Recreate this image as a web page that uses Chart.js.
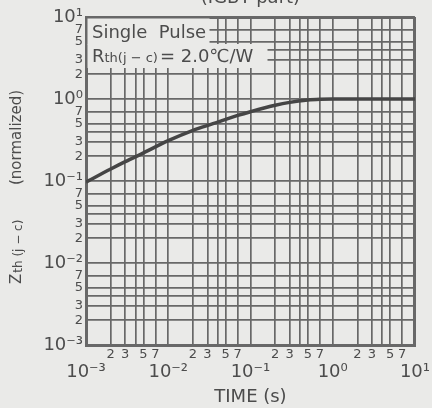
<!DOCTYPE html>
<html>
<head>
<meta charset="utf-8">
<script src="https://cdn.jsdelivr.net/npm/chart.js@4.4.0/dist/chart.umd.min.js"></script>
<style>
  html, body { margin: 0; padding: 0; background: #eaeae8; }
  #wrap { width: 432px; height: 408px; }
</style>
</head>
<body>
<div id="wrap"><canvas id="zthChart"></canvas></div>
<script>
// Transient thermal impedance curve (IGBT part)
const timeS = [0.001, 0.002, 0.003, 0.005, 0.01, 0.02, 0.035, 0.07, 0.1, 0.2, 0.3, 0.5, 0.7, 1, 2, 5, 10];
const zthNorm = [0.097, 0.14, 0.172, 0.22, 0.31, 0.415, 0.50, 0.63, 0.70, 0.84, 0.91, 0.97, 0.99, 1.0, 1.0, 1.0, 1.0];

// log grid: decades and the steps that get a line / a label
const xDecades = [-3, -2, -1, 0, 1];
const yDecades = [-3, -2, -1, 0, 1];
const gridSteps = [1, 2, 3, 4, 5, 7];
const labelSteps = [2, 3, 5, 7];

const INK = '#4c4c4c';
const GRID = '#686868';
const BG = '#eaeae8';
const FONT = '"DejaVu Sans", "Liberation Sans", sans-serif';

const sup = { '-': '\u207B', '0': '\u2070', '1': '\u00B9', '2': '\u00B2', '3': '\u00B3' };
function decadeLabel(d) {
  return '10' + String(d).split('').map(c => sup[c]).join('');
}

// list of grid ticks with their text
function makeTicks(decades) {
  const out = [];
  decades.forEach((d, i) => {
    const last = i === decades.length - 1;
    gridSteps.forEach(s => {
      if (last && s !== 1) return;
      out.push({
        value: s * Math.pow(10, d),
        major: s === 1,
        text: s === 1 ? decadeLabel(d) : (labelSteps.includes(s) ? String(s) : '')
      });
    });
  });
  return out;
}
const xTicks = makeTicks(xDecades);
const yTicks = makeTicks(yDecades);

function edgeWidth(scale, v) {
  return (Math.abs(v - scale.min) < 1e-12 || Math.abs(v - scale.max) < 1e-9) ? 3 : 1.7;
}

const textPlugin = {
  id: 'textPlugin',
  beforeDatasetsDraw(chart) {
    const { ctx, chartArea: a } = chart;
    ctx.save();
    // white-out behind the note, as in the datasheet
    ctx.fillStyle = BG;
    ctx.fillRect(a.left + 1.5, a.top + 1.5, 122, 26);
    ctx.fillRect(a.left + 1.5, a.top + 27, 180, 24);
    ctx.fillStyle = INK;
    ctx.textBaseline = 'alphabetic';
    ctx.textAlign = 'left';
    ctx.font = '18px ' + FONT;
    ctx.fillText('Single  Pulse', a.left + 6, a.top + 21);
    let x = a.left + 6;
    const y = a.top + 45;
    ctx.font = '18px ' + FONT;
    ctx.fillText('R', x, y);
    x += ctx.measureText('R').width;
    ctx.font = '13px ' + FONT;
    ctx.fillText('th(j \u2212 c)', x, y);
    x += ctx.measureText('th(j \u2212 c)').width;
    ctx.font = '18px ' + FONT;
    ctx.fillText('= 2.0\u2103/W', x + 2, y);
    ctx.restore();
  },
  afterDraw(chart) {
    const { ctx, chartArea: a } = chart;
    ctx.save();
    ctx.fillStyle = INK;
    // caption cut by the top edge
    ctx.font = '18px ' + FONT;
    ctx.textAlign = 'center';
    ctx.textBaseline = 'alphabetic';
    ctx.fillText('(IGBT part)', (a.left + a.right) / 2, 3);
    // y axis title with subscript
    ctx.translate(21, 284);
    ctx.rotate(-Math.PI / 2);
    ctx.textAlign = 'left';
    ctx.font = '15px ' + FONT;
    ctx.fillText('Z', 0, 0);
    const x = ctx.measureText('Z').width + 1;
    ctx.font = '12px ' + FONT;
    ctx.fillText('th (j \u2212 c)', x, 1);
    ctx.font = '15px ' + FONT;
    ctx.fillText('(normalized)', 99, 0);
    ctx.restore();
  }
};

const ctx = document.getElementById('zthChart').getContext('2d');

const config = {
  type: 'line',
  data: {
    datasets: [{
      data: timeS.map((t, i) => ({ x: t, y: zthNorm[i] })),
      borderColor: '#454545',
      borderWidth: 3.5,
      pointRadius: 0,
      cubicInterpolationMode: 'monotone',
      fill: false
    }]
  },
  options: {
    responsive: true,
    maintainAspectRatio: false,
    animation: false,
    layout: { padding: { top: 17, right: 16, left: 0, bottom: 0 } },
    plugins: { legend: { display: false }, tooltip: { enabled: false } },
    scales: {
      x: {
        type: 'logarithmic',
        min: 0.001,
        max: 10,
        afterBuildTicks: s => { s.ticks = xTicks.map(t => ({ value: t.value, major: t.major })); },
        afterFit: s => { s.height = 63; },
        grid: {
          color: GRID,
          drawTicks: false,
          lineWidth: c => c.tick ? edgeWidth(c.scale, c.tick.value) : 1.7
        },
        border: { display: true, color: GRID, width: 3 },
        ticks: {
          autoSkip: false,
          maxRotation: 0,
          padding: 2,
          color: INK,
          font: c => (c.index !== undefined && xTicks[c.index] && xTicks[c.index].major)
            ? { family: FONT, size: 18, lineHeight: 0.92 }
            : { family: FONT, size: 13 },
          callback: (v, i) => xTicks[i].major ? ['', xTicks[i].text] : xTicks[i].text
        },
        title: {
          display: true,
          text: 'TIME (s)',
          color: INK,
          font: { family: FONT, size: 18 },
          padding: { top: 0, bottom: 0 }
        }
      },
      y: {
        type: 'logarithmic',
        min: 0.001,
        max: 10,
        afterBuildTicks: s => { s.ticks = yTicks.map(t => ({ value: t.value, major: t.major })); },
        afterFit: s => { s.width = 86; },
        grid: {
          color: GRID,
          drawTicks: false,
          lineWidth: c => c.tick ? edgeWidth(c.scale, c.tick.value) : 1.7
        },
        border: { display: true, color: GRID, width: 3 },
        ticks: {
          autoSkip: false,
          padding: 3,
          color: INK,
          font: c => (c.index !== undefined && yTicks[c.index] && yTicks[c.index].major)
            ? { family: FONT, size: 18 }
            : { family: FONT, size: 13 },
          callback: (v, i) => yTicks[i].text
        }
      }
    }
  },
  plugins: [textPlugin]
};

const zthChart = new Chart(ctx, config);
</script>
</body>
</html>
